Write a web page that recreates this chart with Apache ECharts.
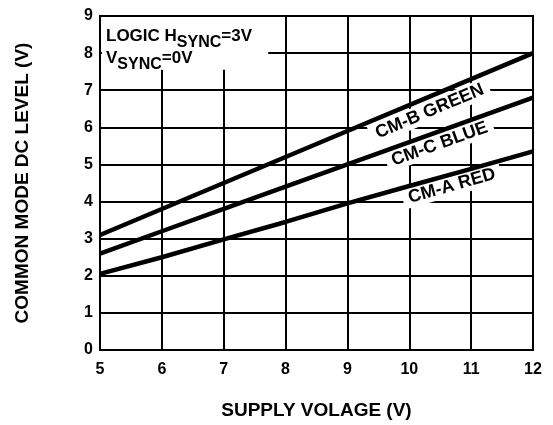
<!DOCTYPE html>
<html>
<head>
<meta charset="utf-8">
<script src="https://cdn.jsdelivr.net/npm/echarts@6/dist/echarts.min.js"></script>
<style>
html, body { margin: 0; padding: 0; background: #fff; }
#chart { width: 553px; height: 425px; }
</style>
</head>
<body>
<div id="chart"></div>
<script>
const supplyVolts = [5, 6, 7, 8, 9, 10, 11, 12];
const cmbGreen = [3.1, 3.8, 4.5, 5.2, 5.9, 6.6, 7.3, 8.0];
const cmcBlue = [2.6, 3.2, 3.8, 4.4, 5.0, 5.6, 6.2, 6.8];
const cmaRed = [2.05, 2.5, 2.98, 3.45, 3.95, 4.42, 4.88, 5.35];

// curve names, placed in data units just under each line
const curveNames = ['CM-B GREEN', 'CM-C BLUE', 'CM-A RED'];
const curveNameAt = [[10.33, 6.43], [10.49, 5.55], [10.69, 4.42]];

const font = "'Liberation Sans', Arial, sans-serif";

const chart = echarts.init(document.getElementById('chart'));

const pairs = arr => supplyVolts.map((v, i) => [v, arr[i]]);

const lineSeries = arr => ({
    type: 'line',
    data: pairs(arr),
    symbol: 'none',
    lineStyle: { color: '#000', width: 4.5 },
    z: 3
});

const axisCommon = {
    type: 'value',
    interval: 1,
    axisLine: { show: true, lineStyle: { color: '#000', width: 2 } },
    axisTick: { show: false },
    splitLine: { show: true, lineStyle: { color: '#000', width: 2 } },
    axisLabel: { color: '#000', fontWeight: 'bold', fontSize: 16, fontFamily: font },
    nameLocation: 'middle',
    nameTextStyle: { color: '#000', fontWeight: 'bold', fontSize: 19, fontFamily: font }
};

chart.setOption({
    animation: false,
    grid: { left: 100, right: 20, top: 16, bottom: 73, show: true, borderColor: '#000', borderWidth: 2 },
    xAxis: Object.assign({}, axisCommon, {
        min: 5, max: 12,
        name: 'SUPPLY VOLAGE (V)',
        nameGap: 51,
        axisLabel: Object.assign({}, axisCommon.axisLabel, { margin: 12 })
    }),
    yAxis: Object.assign({}, axisCommon, {
        min: 0, max: 9,
        name: 'COMMON MODE DC LEVEL (V)',
        nameGap: 68,
        axisLabel: Object.assign({}, axisCommon.axisLabel, { margin: 7 })
    }),
    series: [lineSeries(cmbGreen), lineSeries(cmcBlue), lineSeries(cmaRed)]
});

// text overlays placed through the chart's own scales
const px = p => chart.convertToPixel({ gridIndex: 0 }, p);
const series = [cmbGreen, cmcBlue, cmaRed];
const graphics = [];

series.forEach((arr, i) => {
    const a = px([supplyVolts[0], arr[0]]);
    const b = px([supplyVolts[supplyVolts.length - 1], arr[arr.length - 1]]);
    const angle = Math.atan2(a[1] - b[1], b[0] - a[0]);
    const c = px(curveNameAt[i]);
    graphics.push({
        type: 'text',
        x: c[0], y: c[1],
        rotation: angle,
        z: 1,
        style: {
            text: curveNames[i],
            align: 'center',
            verticalAlign: 'middle',
            fill: '#000',
            font: 'bold 18px ' + font,
            backgroundColor: '#fff',
            padding: [1, 6]
        }
    });
});

const boxA = px([5, 9]);
const boxB = px([7.72, 7.55]);
graphics.push({
    type: 'rect',
    z: 1,
    shape: { x: boxA[0] + 2, y: boxA[1] + 1, width: boxB[0] - boxA[0] - 2, height: boxB[1] - boxA[1] - 1 },
    style: { fill: '#fff' }
});
graphics.push({
    type: 'text',
    x: boxA[0] + 6, y: boxA[1] + 12,
    z: 1,
    style: {
        text: '{a|LOGIC H}{s|SYNC}{a|=3V}\n{a|V}{s|SYNC}{a|=0V}',
        fill: '#000',
        rich: {
            a: { fontSize: 17, fontWeight: 'bold', fontFamily: font, lineHeight: 22, verticalAlign: 'top' },
            s: { fontSize: 16, fontWeight: 'bold', fontFamily: font, lineHeight: 10, padding: [7, 0, 0, 0], verticalAlign: 'top' }
        }
    }
});

chart.setOption({ graphic: graphics });
</script>
</body>
</html>
